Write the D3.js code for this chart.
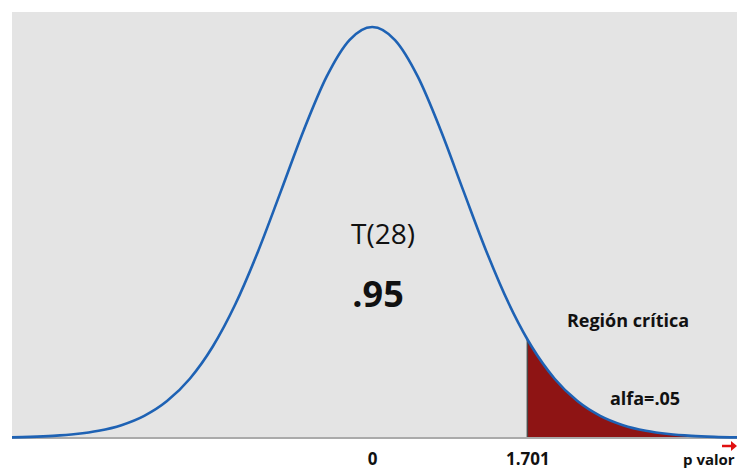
<!DOCTYPE html>
<html><head><meta charset="utf-8">
<script src="https://cdn.jsdelivr.net/npm/d3@7"></script>
<style>body{margin:0;background:#fff;}svg{display:block;}text{font-family:"Open Sans","Noto Sans",sans-serif;}</style>
</head><body><svg id="c" width="737" height="471"></svg>
<script>
// t values (x axis) and density (T(28) curve)
const tValues = [-4, -3.75, -3.5, -3.25, -3, -2.75, -2.5, -2.25, -2, -1.75, -1.5, -1.25, -1, -0.75, -0.5, -0.25, 0, 0.25, 0.5, 0.75, 1, 1.25, 1.5, 1.701, 1.75, 2, 2.25, 2.5, 2.75, 3, 3.25, 3.5, 3.75, 4];
const density = [0.00056, 0.00108, 0.00205, 0.00381, 0.00695, 0.01235, 0.0213, 0.03553, 0.05705, 0.0878, 0.1289, 0.18, 0.2378, 0.2964, 0.3477, 0.3829, 0.3955, 0.3829, 0.3477, 0.2964, 0.2378, 0.18, 0.1289, 0.09504, 0.0878, 0.05705, 0.03553, 0.0213, 0.01235, 0.00695, 0.00381, 0.00205, 0.00108, 0.00056];
const criticalValue = 1.701;
const tickValues = [0, 1.701];
const tickLabels = ["0", "1.701"];
const dfLabel = "T(28)";
const confidence = ".95";
const alphaLabel = "alfa=.05";
const regionLabel = "Región crítica";
const pLabel = "p valor";

(function () {
const pts = tValues.map((t, i) => ({t, d: density[i]}));
const svg = d3.select("#c");
const L = 12, R = 737, T = 12, B = 438;
const x = d3.scaleLinear().domain([-3.95, 4.0]).range([L, R]);
const y = d3.scaleLinear().domain([0, 0.3955]).range([B, 27]);

svg.append("rect").attr("x", L).attr("y", T).attr("width", R - L).attr("height", B - T).attr("fill", "#e4e4e4");

svg.append("clipPath").attr("id", "cp").append("rect").attr("x", L).attr("y", 0).attr("width", R - L).attr("height", B + 1);

const tail = pts.filter(p => p.t >= criticalValue);
const area = d3.area().x(p => x(p.t)).y0(y(0)).y1(p => y(p.d)).curve(d3.curveMonotoneX);
svg.append("path").datum(tail).attr("d", area).attr("fill", "#8e1414").attr("clip-path", "url(#cp)");
svg.append("line").attr("x1", x(criticalValue)).attr("x2", x(criticalValue)).attr("y1", y(0)).attr("y2", y(density[tValues.indexOf(criticalValue)]))
  .attr("stroke", "#4a4a4a").attr("stroke-width", 1.5);

// axis
const axis = d3.axisBottom(x).tickValues(tickValues).tickFormat((d, i) => tickLabels[i]).tickSize(0).tickPadding(0);
const g = svg.append("g").attr("transform", `translate(0,${B})`).call(axis);
g.select(".domain").attr("stroke", "#aaaaaa").attr("stroke-width", 2).attr("d", `M${L},0H${R}`);
g.selectAll(".tick text").attr("y", 27).attr("dy", null).attr("font-size", 17).attr("font-weight", "bold").attr("fill", "#111")
  .attr("font-family", "'Open Sans','Noto Sans',sans-serif");

const line = d3.line().x(p => x(p.t)).y(p => y(p.d)).curve(d3.curveMonotoneX);
svg.append("path").datum(pts).attr("d", line).attr("fill", "none").attr("stroke", "#1e62b4").attr("stroke-width", 2.6).attr("clip-path", "url(#cp)");

svg.append("text").attr("x", 383).attr("y", 244).attr("text-anchor", "middle").attr("font-size", 28).attr("fill", "#111").text(dfLabel);
svg.append("text").attr("x", 378).attr("y", 307).attr("text-anchor", "middle").attr("font-size", 36).attr("font-weight", "bold").attr("fill", "#111").text(confidence);
svg.append("text").attr("x", 628).attr("y", 327).attr("text-anchor", "middle").attr("font-size", 18).attr("font-weight", "bold").attr("fill", "#111").text(regionLabel);
svg.append("text").attr("x", 645).attr("y", 405).attr("text-anchor", "middle").attr("font-size", 18).attr("font-weight", "bold").attr("fill", "#111").text(alphaLabel);
svg.append("text").attr("x", 683).attr("y", 465).attr("font-size", 15).attr("font-weight", "bold").attr("fill", "#111").text(pLabel);

// red arrow
svg.append("line").attr("x1", 722).attr("x2", 733).attr("y1", 446).attr("y2", 446).attr("stroke", "#e01010").attr("stroke-width", 2.5);
svg.append("path").attr("d", "M731,441L737,446L731,451Z").attr("fill", "#e01010");
})();
</script></body></html>
